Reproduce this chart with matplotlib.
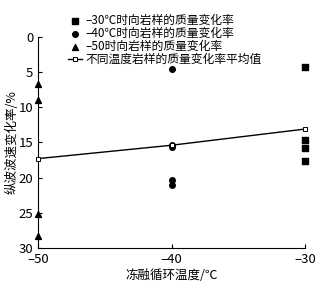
import matplotlib
matplotlib.use("Agg")
import matplotlib.pyplot as plt

plt.rcParams['font.family'] = ['Noto Sans CJK SC', 'DejaVu Sans']
plt.rcParams['axes.unicode_minus'] = False

temps = [-50, -40, -30]
vals_30 = [4.3, 14.7, 15.8, 17.7]
vals_40 = [4.6, 15.3, 15.6, 20.4, 21.1]
vals_50 = [6.7, 9.0, 25.2, 28.3]
means = [17.3, 15.4, 13.1]
labels = ['–30℃时向岩样的质量变化率', '–40℃时向岩样的质量变化率',
          '–50时向岩样的质量变化率', '不同温度岩样的质量变化率平均值']
xticks = [-50, -40, -30]
xticklabels = ['–50', '–40', '–30']
yticks = [0, 5, 10, 15, 20, 25, 30]

fig = plt.figure(figsize=(3.34, 2.86), dpi=100)
ax = fig.add_axes([0.114, 0.133, 0.799, 0.738])

ax.scatter([-30]*len(vals_30), vals_30, marker='s', s=14, color='black', label=labels[0], clip_on=False, zorder=3)
ax.scatter([-40]*len(vals_40), vals_40, marker='o', s=16, color='black', label=labels[1], clip_on=False, zorder=3)
ax.scatter([-50]*len(vals_50), vals_50, marker='^', s=18, color='black', label=labels[2], clip_on=False, zorder=3)
ax.plot(temps, means, color='black', lw=1.0, marker='s', ms=3.5, mfc='white', mec='black', mew=0.7,
        label=labels[3], clip_on=False, zorder=4)

ax.set_xlim(-50, -30)
ax.set_ylim(30, 0)
ax.set_xticks(xticks)
ax.set_xticklabels(xticklabels)
ax.set_yticks(yticks)
ax.spines['top'].set_visible(False)
ax.spines['right'].set_visible(False)
ax.tick_params(direction='in', length=3, width=0.8, labelsize=9.5)
ax.set_xlabel('冻融循环温度/℃', fontsize=9, labelpad=2)
ax.set_ylabel('纵波波速变化率/%', fontsize=9, labelpad=0)

leg = ax.legend(loc='upper left', bbox_to_anchor=(0.09, 1.135), frameon=False, fontsize=8.5,
                handlelength=1.2, handletextpad=0.3, labelspacing=0.0, borderpad=0)

fig.savefig('out.png', dpi=100)
